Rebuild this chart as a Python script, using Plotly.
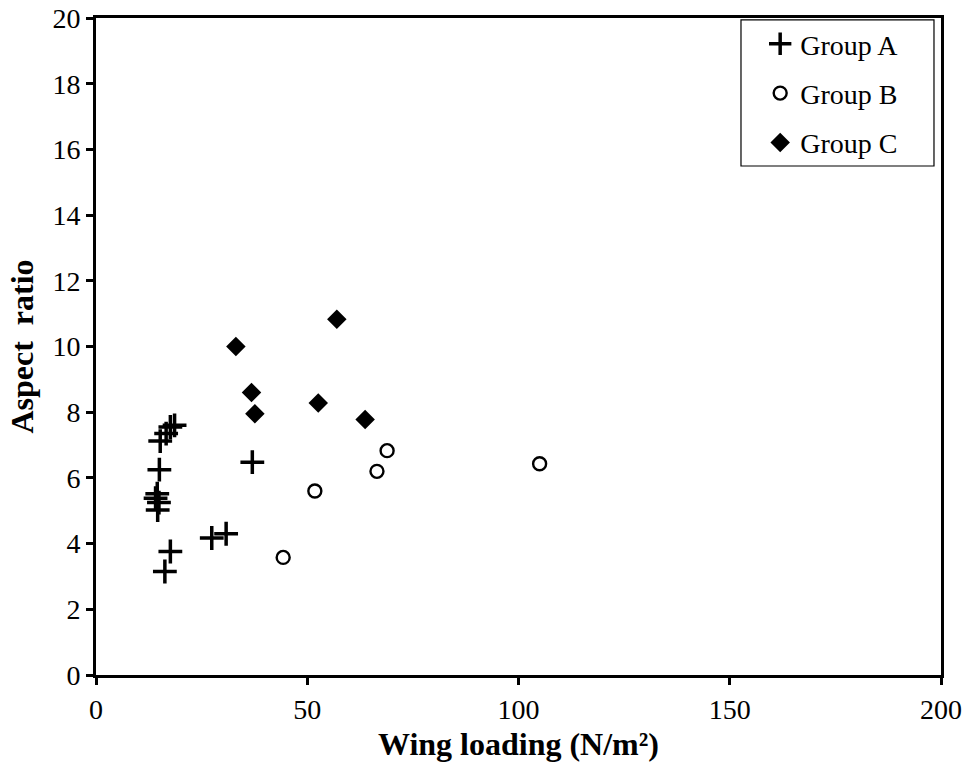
import plotly.graph_objects as go

a_x = [15.2, 16.6, 17.6, 18.6, 15.0, 14.5, 14.1, 14.9, 14.6, 17.6, 16.3, 27.4, 30.8, 37.0]
a_y = [7.12, 7.35, 7.55, 7.6, 6.25, 5.52, 5.38, 5.25, 5.02, 3.76, 3.15, 4.17, 4.3, 6.48]
b_x = [44.3, 51.8, 66.5, 68.9, 105.0]
b_y = [3.58, 5.6, 6.2, 6.83, 6.43]
c_x = [57.0, 33.1, 36.8, 37.6, 52.6, 63.7]
c_y = [10.83, 10.0, 8.6, 7.95, 8.28, 7.78]

font_family = "Liberation Serif"

fig = go.Figure()
fig.add_trace(go.Scatter(x=a_x, y=a_y, mode="markers", name="Group A", legendgroup="a",
                         marker=dict(symbol="cross-thin-open", size=17, color="black",
                                     line=dict(width=3.5, color="black"))))
fig.add_trace(go.Scatter(x=b_x, y=b_y, mode="markers", name="Group B", legendgroup="b",
                         marker=dict(symbol="circle-open", size=13, color="black",
                                     line=dict(width=2.4, color="black"))))
fig.add_trace(go.Scatter(x=c_x, y=c_y, mode="markers", name="Group C", legendgroup="c",
                         marker=dict(symbol="diamond", size=15, color="black")))

axis_common = dict(showline=True, linecolor="black", linewidth=3, mirror=True,
                   ticks="outside", tickwidth=3, ticklen=7, tickcolor="black",
                   showgrid=False, zeroline=False, automargin=False,
                   tickfont=dict(family=font_family, size=28, color="black"))

fig.update_layout(
    width=968, height=774,
    margin=dict(l=96, r=27, t=18, b=99),
    paper_bgcolor="white", plot_bgcolor="white",
    font=dict(family=font_family, color="black"),
    xaxis=dict(range=[0, 200], dtick=50,
               title=dict(text="<b>Wing loading (N/m²)</b>", font=dict(family=font_family, size=32), standoff=10),
               **axis_common),
    yaxis=dict(range=[0, 20], dtick=2,
               title=dict(text="<b>Aspect  ratio</b>", font=dict(family=font_family, size=32), standoff=10),
               **axis_common),
    legend=dict(x=0.786, y=0.9985, xanchor="left", yanchor="top",
                borderwidth=0, bgcolor="rgba(0,0,0,0)",
                font=dict(family=font_family, size=28, color="black"),
                tracegroupgap=10, itemwidth=30),
    shapes=[dict(type="rect", xref="paper", yref="paper",
                 x0=0.7633, x1=0.9917, y0=0.7747, y1=0.997,
                 line=dict(color="black", width=1.2), fillcolor="white", layer="below")],
    showlegend=True,
)

fig.write_html("out.html")
